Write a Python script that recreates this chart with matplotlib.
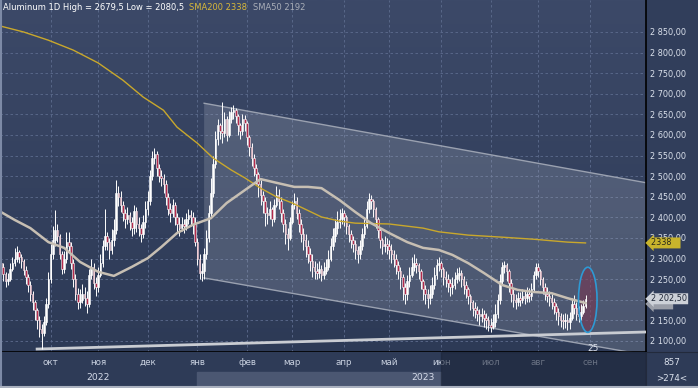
import numpy as np
import pandas as pd
import matplotlib
matplotlib.use("Agg")
import matplotlib.pyplot as plt
from matplotlib.patches import Ellipse, Polygon

# --- данные (дневные свечи, Aluminum 1D) ---
first_open = 2290
closes = [
    2280, 2262, 2245, 2250, 2275, 2290, 2300, 2315, 2305, 2295,
    2272, 2255, 2235, 2215, 2195, 2175, 2150, 2130, 2120, 2145,
    2190, 2250, 2310, 2345, 2370, 2355, 2310, 2275, 2300, 2340,
    2330, 2290, 2250, 2215, 2195, 2200, 2215, 2205, 2190, 2260,
    2280, 2240, 2230, 2260, 2290, 2330, 2355, 2340, 2320, 2345,
    2370, 2460, 2450, 2430, 2410, 2395, 2405, 2390, 2375, 2415,
    2385, 2375, 2360, 2390, 2420, 2440, 2500, 2545, 2555, 2520,
    2500, 2495, 2480, 2450, 2420, 2410, 2430, 2400, 2385, 2375,
    2385, 2380, 2395, 2405, 2400, 2385, 2340, 2300, 2265, 2270,
    2310, 2350, 2410, 2460, 2530, 2590, 2625, 2610, 2605, 2640,
    2600, 2640, 2655, 2660, 2645, 2625, 2610, 2640, 2630, 2595,
    2570, 2545, 2520, 2505, 2480, 2455, 2440, 2410, 2405, 2420,
    2395, 2430, 2455, 2440, 2410, 2385, 2360, 2350, 2390, 2430,
    2440, 2410, 2385, 2360, 2345, 2330, 2310, 2295, 2280, 2270,
    2265, 2275, 2260, 2270, 2280, 2300, 2330, 2355, 2375, 2390,
    2395, 2410, 2400, 2380, 2360, 2345, 2335, 2320, 2310, 2330,
    2360, 2380, 2420, 2445, 2440, 2420, 2395, 2370, 2345, 2330,
    2335, 2330, 2320, 2310, 2300, 2285, 2270, 2255, 2230, 2215,
    2245, 2260, 2280, 2290, 2285, 2270, 2245, 2225, 2215, 2205,
    2215, 2235, 2260, 2285, 2290, 2275, 2255, 2250, 2240, 2230,
    2235, 2250, 2260, 2265, 2250, 2235, 2225, 2210, 2195, 2180,
    2175, 2165, 2160, 2165, 2155, 2150, 2140, 2135, 2145, 2165,
    2200, 2245, 2280, 2285, 2270, 2240, 2215, 2200, 2195, 2205,
    2200, 2210, 2205, 2215, 2210, 2225, 2260, 2280, 2270, 2250,
    2230, 2215, 2210, 2205, 2195, 2185, 2170, 2160, 2150, 2148,
    2150, 2145, 2155, 2190, 2180, 2165, 2160, 2170, 2185, 2202.5,
]
highs = [
    2300, 2290, 2268, 2265, 2290, 2305, 2325, 2330, 2322, 2310,
    2300, 2282, 2262, 2245, 2222, 2200, 2180, 2160, 2142, 2160,
    2205, 2268, 2335, 2380, 2418, 2385, 2360, 2318, 2318, 2365,
    2365, 2340, 2300, 2262, 2228, 2225, 2238, 2230, 2222, 2275,
    2300, 2290, 2255, 2280, 2310, 2345, 2420, 2365, 2350, 2372,
    2395, 2490, 2475, 2465, 2440, 2420, 2425, 2412, 2400, 2430,
    2425, 2400, 2385, 2405, 2440, 2465, 2515, 2560, 2568, 2560,
    2530, 2515, 2505, 2490, 2460, 2435, 2445, 2438, 2410, 2400,
    2400, 2395, 2410, 2420, 2418, 2412, 2400, 2350, 2310, 2290,
    2325, 2370, 2430, 2495, 2550, 2610, 2640, 2630, 2679.5, 2655,
    2645, 2658, 2668, 2672, 2665, 2650, 2630, 2650, 2648, 2635,
    2600, 2580, 2555, 2530, 2510, 2490, 2465, 2450, 2425, 2440,
    2425, 2445, 2475, 2470, 2450, 2420, 2395, 2375, 2400, 2440,
    2458, 2450, 2420, 2395, 2375, 2360, 2345, 2325, 2310, 2295,
    2290, 2295, 2285, 2292, 2300, 2320, 2350, 2375, 2395, 2415,
    2420, 2423, 2418, 2405, 2385, 2370, 2355, 2345, 2330, 2345,
    2375, 2400, 2440, 2459, 2455, 2445, 2425, 2400, 2375, 2350,
    2355, 2350, 2345, 2335, 2320, 2310, 2295, 2280, 2262, 2240,
    2260, 2280, 2305, 2310, 2302, 2290, 2275, 2250, 2235, 2225,
    2235, 2255, 2280, 2300, 2305, 2295, 2280, 2270, 2262, 2250,
    2255, 2268, 2278, 2280, 2272, 2258, 2245, 2232, 2215, 2200,
    2195, 2185, 2178, 2180, 2175, 2168, 2160, 2155, 2165, 2190,
    2215, 2262, 2292, 2295, 2290, 2275, 2250, 2225, 2215, 2220,
    2220, 2225, 2222, 2230, 2228, 2240, 2270, 2290, 2290, 2275,
    2255, 2240, 2230, 2222, 2215, 2205, 2192, 2180, 2168, 2165,
    2168, 2165, 2170, 2205, 2212, 2195, 2185, 2190, 2200, 2212,
]
lows = [
    2265, 2245, 2232, 2236, 2245, 2270, 2282, 2292, 2290, 2278,
    2260, 2238, 2220, 2198, 2176, 2150, 2128, 2110, 2080.5, 2112,
    2138, 2180, 2240, 2300, 2330, 2340, 2300, 2262, 2265, 2290,
    2315, 2275, 2232, 2200, 2178, 2180, 2192, 2185, 2168, 2182,
    2250, 2225, 2210, 2220, 2255, 2280, 2320, 2320, 2300, 2310,
    2330, 2360, 2428, 2412, 2392, 2375, 2385, 2370, 2355, 2360,
    2365, 2355, 2340, 2350, 2375, 2405, 2430, 2490, 2530, 2500,
    2485, 2475, 2460, 2430, 2405, 2390, 2400, 2382, 2365, 2355,
    2368, 2362, 2370, 2385, 2380, 2360, 2330, 2285, 2250, 2245,
    2250, 2300, 2340, 2400, 2450, 2520, 2575, 2590, 2580, 2595,
    2585, 2595, 2630, 2640, 2630, 2600, 2590, 2600, 2610, 2575,
    2550, 2525, 2500, 2480, 2450, 2430, 2410, 2380, 2385, 2395,
    2380, 2390, 2425, 2420, 2390, 2365, 2335, 2320, 2345, 2385,
    2420, 2395, 2365, 2340, 2320, 2305, 2290, 2270, 2255, 2250,
    2250, 2252, 2245, 2250, 2262, 2272, 2295, 2320, 2340, 2360,
    2375, 2385, 2380, 2360, 2340, 2325, 2315, 2300, 2290, 2300,
    2320, 2350, 2375, 2410, 2420, 2400, 2375, 2350, 2325, 2310,
    2315, 2310, 2300, 2290, 2280, 2262, 2250, 2225, 2200, 2190,
    2200, 2230, 2255, 2270, 2265, 2250, 2225, 2200, 2190, 2180,
    2190, 2205, 2225, 2250, 2270, 2255, 2235, 2230, 2220, 2210,
    2215, 2225, 2240, 2245, 2230, 2215, 2205, 2190, 2175, 2160,
    2155, 2148, 2140, 2145, 2135, 2130, 2125, 2122, 2128, 2135,
    2155, 2190, 2235, 2265, 2245, 2220, 2195, 2182, 2178, 2185,
    2185, 2192, 2190, 2195, 2195, 2200, 2220, 2250, 2255, 2235,
    2215, 2200, 2195, 2185, 2178, 2165, 2150, 2140, 2135, 2130,
    2132, 2127, 2130, 2150, 2165, 2150, 2145, 2150, 2165, 2180,
]

# скользящие средние (номер бара, значение)
sma200_idx = [0, 10, 21, 32, 43, 54, 63, 72, 78, 87, 94, 102, 108, 115, 122,
              129, 142, 150, 157, 172, 187, 194, 207, 222, 236, 251, 259]
sma200_val = [2864, 2850, 2830, 2806, 2775, 2733, 2692, 2660, 2619, 2580, 2544,
              2515, 2496, 2471, 2450, 2435, 2401, 2391, 2386, 2384, 2374, 2365,
              2357, 2352, 2347, 2340, 2338]
sma50_idx = [0, 6, 13, 21, 28, 35, 43, 50, 58, 65, 71, 78, 85, 93, 100, 108,
             115, 122, 130, 136, 142, 150, 157, 164, 172, 180, 187, 194, 200,
             207, 214, 222, 229, 236, 244, 251, 259]
sma50_val = [2413, 2394, 2374, 2340, 2326, 2292, 2268, 2258, 2280, 2301, 2328,
             2362, 2382, 2398, 2435, 2466, 2493, 2484, 2474, 2474, 2471, 2442,
             2413, 2386, 2362, 2340, 2326, 2321, 2309, 2289, 2265, 2236, 2224,
             2219, 2216, 2204, 2192]

# канал и линия поддержки (бар, цена)
channel_x = [90, 290]
channel_top = [2677, 2480]
channel_bot = [2253, 2062]
support_x = [16, 290]
support_y = [2080.5, 2122.5]

months_ru = ['окт', 'ноя', 'дек', 'янв', 'фев', 'мар', 'апр', 'май',
             'июн', 'июл', 'авг', 'сен']
price_ticks = list(range(2100, 2851, 50))
last_price = 2202.5
sma200_last = 2338

# --- оформление ---
BG = '#313e5b'
GRID = '#5d6c8e'
W, H = 698, 388

fig = plt.figure(figsize=(W / 100, H / 100), dpi=100)
fig.patch.set_facecolor(BG)


def px_axes(x0, y0, x1, y1):
    return fig.add_axes([x0 / W, 1 - y1 / H, (x1 - x0) / W, (y1 - y0) / H])


def fmt_price(v):
    return f"{v:,.2f}".replace(',', ' ').replace('.', ',')


n = len(closes)
idx = np.arange(n)
closes = np.array(closes, dtype=float)
opens = np.r_[first_open, closes[:-1]]
highs = np.array(highs, dtype=float)
lows = np.array(lows, dtype=float)

dates = pd.bdate_range('2022-09-01', periods=300)
mon = np.asarray(dates.month)
month_starts = (np.where(mon[1:] != mon[:-1])[0] + 1)[:len(months_ru)]

xmin, xmax = -0.45, 285.8
ymin, ymax = 2073.3, 2927.6

ax = px_axes(0, 0, 646, 352)
ax.set_xlim(xmin, xmax)
ax.set_ylim(ymin, ymax)

# градиентный фон
grad = np.linspace(0, 1, 256).reshape(-1, 1)
ax.imshow(grad, extent=[xmin, xmax, ymin, ymax], aspect='auto', origin='lower',
          cmap=matplotlib.colors.LinearSegmentedColormap.from_list(
              'bg', ['#2d3a56', '#3c4968']), zorder=0)

for yv in price_ticks:
    ax.axhline(yv, color=GRID, lw=0.6, ls=(0, (3, 3)), zorder=1)
for xv in month_starts:
    ax.axvline(xv, color=GRID, lw=0.6, ls=(0, (3, 3)), zorder=1)

# канал
poly = Polygon([[channel_x[0], channel_top[0]], [channel_x[1], channel_top[1]],
                [channel_x[1], channel_bot[1]], [channel_x[0], channel_bot[0]]],
               closed=True, facecolor='#b8bfcc', alpha=0.22, edgecolor='none', zorder=2)
ax.add_patch(poly)
ax.plot(channel_x, channel_top, color='#9aa1b0', lw=1.0, zorder=2)
ax.plot(channel_x, channel_bot, color='#9aa1b0', lw=1.0, zorder=2)
ax.plot(support_x, support_y, color='#c9ccd2', lw=2.0, zorder=3)

# свечи
up = closes >= opens
ax.vlines(idx, lows, highs, color='white', lw=0.7, zorder=4)
body_lo = np.minimum(opens, closes)
body_h = np.maximum(np.abs(closes - opens), 1.5)
ax.bar(idx[up], body_h[up], bottom=body_lo[up], width=0.7, color='white',
       edgecolor='white', lw=0.4, zorder=5)
ax.bar(idx[~up], body_h[~up], bottom=body_lo[~up], width=0.7, color='#b32a4b',
       edgecolor='white', lw=0.4, zorder=5)

ax.plot(sma200_idx, sma200_val, color='#c9a82c', lw=1.0, zorder=6)
ax.plot(sma50_idx, sma50_val, color='#c7bfb3', lw=1.8, zorder=6)

ax.add_patch(Ellipse((260, 2200), 8.2, 158, facecolor='#7a3550', alpha=0.55,
                     edgecolor='none', zorder=3))
ax.add_patch(Ellipse((260, 2200), 8.2, 158, facecolor='none',
                     edgecolor='#2e9ad4', lw=1.2, zorder=7))
ax.text(262.5, 2072, '25', color='#dfe4ee', fontsize=6.5, ha='center', va='bottom', zorder=8)

# правая шкала (метка 2 200,00 закрыта ярлыком текущей цены)
ax.yaxis.tick_right()
ax.set_yticks(price_ticks)
ax.set_yticklabels(['' if v == 2200 else fmt_price(v) for v in price_ticks])
ax.tick_params(axis='y', length=0, pad=3, labelsize=5.9, labelcolor='#dbe1ec')
ax.set_xticks([])
for s in ax.spines.values():
    s.set_visible(False)
ax.spines['right'].set_visible(True)
ax.spines['right'].set_color('black')
ax.spines['right'].set_linewidth(1.2)
ax.spines['bottom'].set_visible(True)
ax.spines['bottom'].set_color('black')
ax.spines['bottom'].set_linewidth(1.2)

# метки текущих значений
ytr = ax.get_yaxis_transform()
ax.text(1.008, sma50_val[-1] - 2, '        ', transform=ytr, color='#9a9ea8',
        fontsize=5.9, va='center', ha='left', clip_on=False, zorder=9,
        bbox=dict(boxstyle='larrow,pad=0.12', fc='#9a9ea8', ec='none'))
ax.text(1.008, sma200_last, f'{sma200_last}   ', transform=ytr, color='#2a2a1a',
        fontsize=5.9, va='center', ha='left', clip_on=False, zorder=10,
        bbox=dict(boxstyle='larrow,pad=0.12', fc='#c8b42c', ec='none'))
ax.text(1.008, last_price, fmt_price(last_price), transform=ytr, color='#202838',
        fontsize=5.9, va='center', ha='left', clip_on=False, zorder=10,
        bbox=dict(boxstyle='larrow,pad=0.12', fc='#cdd1d8', ec='none'))

# легенда сверху
ax.text(0.005, 0.978, 'Aluminum 1D High = 2679,5 Low = 2080,5', transform=ax.transAxes,
        color='white', fontsize=6.0, va='center', ha='left', zorder=10)
ax.text(0.292, 0.978, 'SMA200 2338', transform=ax.transAxes,
        color='#d8b83a', fontsize=6.0, va='center', ha='left', zorder=10)
ax.text(0.392, 0.978, 'SMA50 2192', transform=ax.transAxes,
        color='#a9aeb8', fontsize=6.0, va='center', ha='left', zorder=10)

# нижняя шкала времени
axb = px_axes(0, 352, 646, 388)
axb.set_facecolor('#2e3b57')
axb.set_xlim(xmin, xmax)
axb.set_ylim(0, 1)
axb.axvspan(month_starts[3], month_starts[8], ymin=0.03, ymax=0.45, color='#4b5772', zorder=1)
axb.axvspan(month_starts[8], xmax, color='#1b2437', alpha=0.55, zorder=5)
for xv, lab in zip(month_starts, months_ru):
    axb.text(xv, 0.72, lab, color='#c9d1e0', fontsize=6.3, ha='center', va='center', zorder=3)
axb.text(month_starts[1], 0.3, '2022', color='#d6dcea', fontsize=6.6, ha='center', va='center', zorder=3)
axb.text(month_starts[8] - 8, 0.3, '2023', color='#d6dcea', fontsize=6.6, ha='center', va='center', zorder=3)
axb.set_xticks([])
axb.set_yticks([])
for s in axb.spines.values():
    s.set_visible(False)
axb.spines['right'].set_visible(True)
axb.spines['right'].set_color('black')

axc = px_axes(646, 352, 698, 388)
axc.set_facecolor('#2e3b57')
axc.set_xticks([])
axc.set_yticks([])
for s in axc.spines.values():
    s.set_color('#222a3c')
axc.text(0.5, 0.72, '857', color='#dbe1ec', fontsize=6.3, ha='center', va='center')
axc.text(0.5, 0.27, '>274<', color='#dbe1ec', fontsize=6.3, ha='center', va='center')

# светлая рамка окна слева и снизу
fig.add_artist(plt.Line2D([0.5 / W, 0.5 / W], [0, 1], color='#7d8aa6', lw=1.5))
fig.add_artist(plt.Line2D([0, 1], [1 / H, 1 / H], color='#aab1bf', lw=1.5))

fig.savefig('out.png', dpi=100, facecolor=fig.get_facecolor())
